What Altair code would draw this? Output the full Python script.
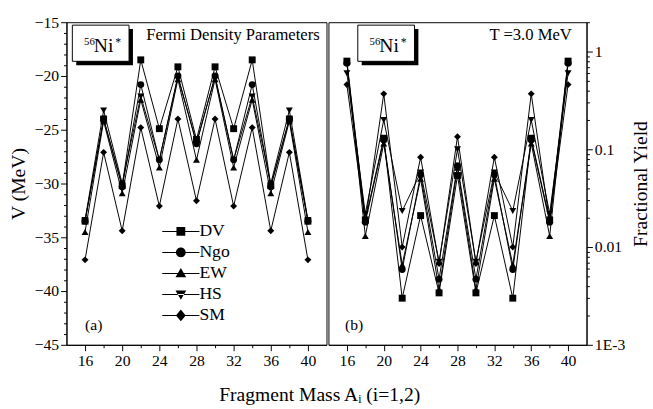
import altair as alt
import pandas as pd

# ---------------- data ----------------
masses = [16, 18, 20, 22, 24, 26, 28, 30, 32, 34, 36, 38, 40]
models = ["DV", "Ngo", "EW", "HS", "SM"]

# panel (a): V (MeV)
v_DV  = [-33.5, -24.0, -30.2, -18.5, -24.9, -19.15, -25.9, -19.15, -24.9, -18.5, -30.2, -24.0, -33.5]
v_Ngo = [-33.5, -24.0, -30.3, -20.8, -27.8, -20.0, -26.3, -20.0, -27.8, -20.8, -30.3, -24.0, -33.5]
v_EW  = [-34.5, -24.2, -30.9, -22.2, -28.5, -20.3, -27.8, -20.3, -28.5, -22.2, -30.9, -24.2, -34.5]
v_HS  = [-33.4, -23.2, -30.0, -21.9, -27.8, -20.1, -26.2, -20.1, -27.8, -21.9, -30.0, -23.2, -33.4]
v_SM  = [-37.1, -27.1, -34.4, -24.8, -32.1, -24.0, -31.6, -24.0, -32.1, -24.8, -34.4, -27.1, -37.1]

# panel (b): fractional yield
y_DV  = [0.80, 0.019, 0.13, 0.0030, 0.021, 0.0034, 0.054, 0.0034, 0.021, 0.0030, 0.13, 0.019, 0.80]
y_Ngo = [0.76, 0.018, 0.125, 0.0059, 0.055, 0.0047, 0.068, 0.0047, 0.055, 0.0059, 0.125, 0.018, 0.76]
y_EW  = [0.78, 0.013, 0.115, 0.0066, 0.050, 0.0037, 0.065, 0.0037, 0.050, 0.0066, 0.115, 0.013, 0.78]
y_HS  = [0.60, 0.022, 0.20, 0.0234, 0.058, 0.0071, 0.10, 0.0071, 0.058, 0.0234, 0.20, 0.022, 0.60]
y_SM  = [0.46, 0.018, 0.37, 0.010, 0.083, 0.0068, 0.135, 0.0068, 0.083, 0.010, 0.37, 0.018, 0.46]

x_title = "Fragment Mass A\u1d62 (i=1,2)"

rows = []
for m, vv, yy in zip(models, [v_DV, v_Ngo, v_EW, v_HS, v_SM], [y_DV, y_Ngo, y_EW, y_HS, y_SM]):
    for a, v, y in zip(masses, vv, yy):
        rows.append({"model": m, "A": a, "V": v, "Y": y})
df = pd.DataFrame(rows)
one = pd.DataFrame({"k": [0]})

FONT = "Liberation Serif, Times New Roman, serif"
W1, W2, H = 266, 264, 330

shapes = ["square", "circle", "triangle-up", "triangle-down", "diamond"]
LINE = "M-3.8,-0.1H3.8V0.1H-3.8Z"
leg_paths = [
    LINE + "M-0.9,-0.9H0.9V0.9H-0.9Z",
    LINE + "M1,0A1,1,0,1,1,-1,0A1,1,0,1,1,1,0Z",
    LINE + "M0,-1.1L1.1,0.8H-1.1Z",
    LINE + "M0,1.1L1.1,-0.8H-1.1Z",
    LINE + "M0,-1.2L1,0L0,1.2L-1,0Z",
]

x_axis = alt.Axis(values=list(range(16, 41, 2)),
                  labelExpr="datum.value % 4 == 0 ? datum.label : ''",
                  tickSize={"condition": {"test": "datum.value % 4 == 0", "value": 6}, "value": 3},
                  title=None, grid=False, labelPadding=2)
xenc = alt.X("A:Q", scale=alt.Scale(domain=[14, 42], nice=False, zero=False), axis=x_axis)

yl = alt.Y("V:Q", scale=alt.Scale(domain=[-45, -15], nice=False, zero=False),
           axis=alt.Axis(values=list(range(-45, -14)),
                         labelExpr="datum.value % 5 == 0 ? datum.label : ''",
                         tickSize={"condition": {"test": "datum.value % 5 == 0", "value": 6}, "value": 3},
                         title="V (MeV)", titlePadding=6, grid=False))

log_vals = [round(m * 10 ** e, 10) for e in (-3, -2, -1) for m in range(1, 10)] + [1, 2]
yr = alt.Y("Y:Q", scale=alt.Scale(type="log", domain=[0.001, 2], nice=False),
           axis=alt.Axis(orient="right", values=log_vals,
                         labelExpr="datum.value == 1 ? '1' : datum.value == 0.1 ? '0.1' : datum.value == 0.01 ? '0.01' : datum.value == 0.001 ? '1E-3' : ''",
                         tickSize={"condition": {"test": "datum.value == 1 || datum.value == 0.1 || datum.value == 0.01 || datum.value == 0.001", "value": 6}, "value": 3},
                         title="Fractional Yield", titleAngle=270, titleBaseline="top",
                         titlePadding=6, grid=False))


def txt(s, x, y, size, align="left"):
    return alt.Chart(one).mark_text(text=s, font=FONT, fontSize=size, align=align,
                                    baseline="alphabetic", color="black").encode(
        x=alt.value(x), y=alt.value(y))


def nibox(x0):
    shadow = alt.Chart(one).mark_rect(color="black").encode(
        x=alt.value(x0 + 4), x2=alt.value(x0 + 62), y=alt.value(7), y2=alt.value(44))
    box = alt.Chart(one).mark_rect(fill="white", stroke="black", strokeWidth=1).encode(
        x=alt.value(x0), x2=alt.value(x0 + 58), y=alt.value(3), y2=alt.value(40))
    return [shadow, box, txt("56", x0 + 12, 23, 11), txt("Ni", x0 + 22, 30, 20), txt("*", x0 + 44, 24, 12)]


def panel(yenc, with_legend):
    base = alt.Chart(df)
    lines = base.mark_line(color="black", strokeWidth=1).encode(
        x=xenc, y=yenc, detail="model:N", order="A:Q")
    pts = base.mark_point(filled=True, color="black", opacity=1, size=50).encode(
        x=xenc, y=yenc,
        shape=alt.Shape("model:N", scale=alt.Scale(domain=models, range=shapes), legend=None))
    layers = [lines, pts]
    if with_legend:
        leg = base.transform_filter("false").mark_point(filled=True, color="black", opacity=1).encode(
            x=xenc, y=yenc,
            shape=alt.Shape("model:N", scale=alt.Scale(domain=models, range=leg_paths),
                            legend=alt.Legend(orient="none", legendX=108, legendY=205, title=None,
                                              labelFont=FONT, labelFontSize=18, labelColor="black",
                                              symbolSize=100, symbolFillColor="black",
                                              symbolStrokeColor="black", symbolStrokeWidth=0,
                                              symbolOpacity=1, labelOffset=10, rowPadding=3.5,
                                              padding=0)))
        layers.append(leg)
    return layers


left = alt.layer(
    *nibox(6),
    txt("Fermi Density Parameters", 259, 18, 17, align="right"),
    txt("(a)", 19, 315, 16),
    *panel(yl, True),
).resolve_scale(shape="independent").properties(width=W1, height=H)

right = alt.layer(
    *nibox(30),
    txt("T =3.0 MeV", 249, 18, 17, align="right"),
    txt("(b)", 17, 315, 16),
    *panel(yr, False),
).properties(width=W2, height=H)

chart = alt.hconcat(left, right, spacing=0).properties(
    title=alt.TitleParams(x_title, orient="bottom", anchor="middle", font=FONT, fontSize=20,
                          fontWeight="normal", color="black", offset=17, dx=-10),
    padding={"left": 8, "top": 9, "right": 2, "bottom": 2},
).configure_view(stroke="black", strokeWidth=1).configure_axis(
    domainColor="black", tickColor="black", labelColor="black", titleColor="black",
    labelFont=FONT, labelFontSize=16, titleFont=FONT, titleFontSize=20, titleFontWeight="normal",
)

chart.save("out.html", embed_options={"renderer": "svg", "actions": False})
